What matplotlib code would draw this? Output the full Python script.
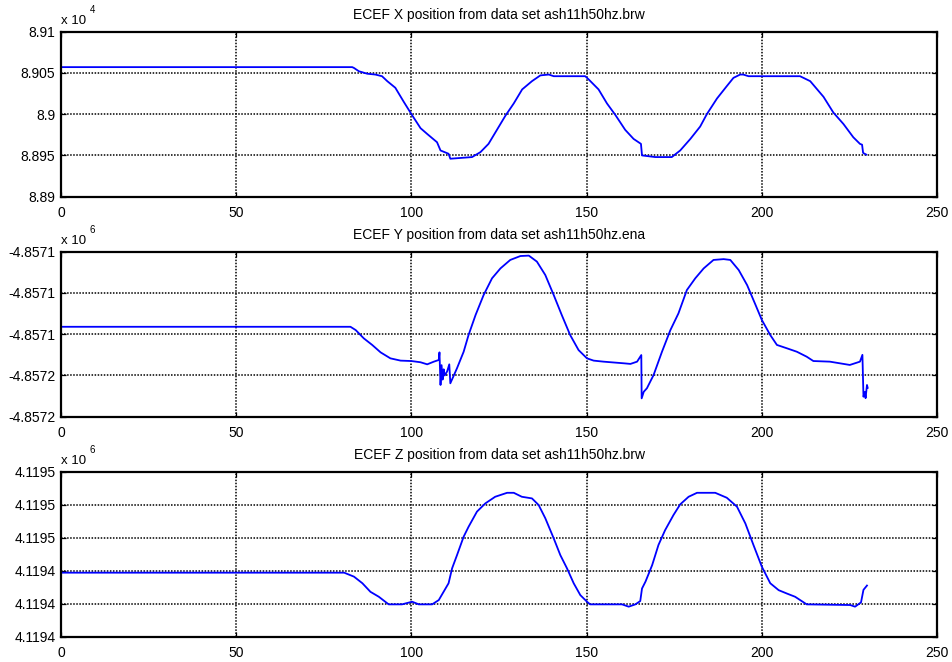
import matplotlib
matplotlib.use('Agg')
import matplotlib.pyplot as plt

plt.rcParams['font.family'] = ['Liberation Sans', 'DejaVu Sans']

# time axis (s) and ECEF positions (m)
t_x = [0, 83.1, 83.6, 85, 87.4, 89.7, 91.6, 93.1, 95.4, 97.8, 100, 102.6, 104.5,
       107.3, 108.3, 110.6, 111.1, 117.3, 119.7, 122, 124.4, 126.8, 129.2, 131.6,
       134.4, 136.8, 139.2, 140.6, 149.6, 150.6, 153.4, 155.8, 158.2, 161, 163.4,
       165.5, 165.8, 169.6, 174.3, 176.7, 179.6, 182.4, 184.3, 187.2, 190, 191.9,
       193.8, 194.7, 196.2, 210.9, 213.8, 217.6, 220.4, 223.3, 226.1, 228.0,
       228.6, 228.9, 229.8]
x_pos = [89057, 89057, 89056, 89052, 89049, 89048, 89046, 89040, 89032, 89015,
         89000, 88983, 88976, 88966, 88956, 88952, 88946, 88948, 88954, 88964,
         88981, 88998, 89013, 89030, 89040, 89047, 89048, 89046, 89046, 89042,
         89030, 89013, 88999, 88981, 88970, 88964, 88950, 88948, 88948, 88956,
         88970, 88985, 89000, 89019, 89034, 89044, 89048, 89048, 89046, 89046,
         89040, 89021, 89002, 88988, 88972, 88964, 88963, 88953, 88951]

t_y = [0, 82.6, 84.1, 86.4, 88.8, 91.2, 94.0, 96.9, 100, 102.6, 104.5, 106.4,
       107.8, 108.0, 108.3, 108.6, 108.9, 109.2, 109.5, 110.2, 110.8, 111.1, 113,
       114.9, 116.3, 118.3, 120.6, 123, 125.4, 128.2, 131.1, 133.5, 135.8, 138.2,
       140.6, 142.9, 145.3, 147.7, 150.1, 152, 154.8, 160.6, 162.5, 164.4, 165.6,
       165.7, 166.3, 167.2, 169.1, 171.5, 173.9, 176.2, 178.6, 181, 183.4, 186.2,
       189.1, 191, 193.4, 195.8, 198.2, 200.0, 202.4, 204.3, 207.1, 210, 212.8,
       214.7, 219.4, 225.1, 228, 228.7, 229.0, 229.4, 229.6, 230.0, 230.2]
y_pos = [-4857136.4, -4857136.4, -4857138.0, -4857142.0, -4857145.2, -4857148.8,
         -4857151.7, -4857152.8, -4857153.0, -4857153.6, -4857154.6, -4857153.3,
         -4857152.5, -4857148.8, -4857164.6, -4857155.0, -4857162.0, -4857157.0,
         -4857160.0, -4857158.0, -4857154.6, -4857163.8, -4857156.5, -4857148.5,
         -4857140.4, -4857130.7, -4857121.0, -4857112.9, -4857108.1, -4857104.0,
         -4857102.1, -4857101.9, -4857104.8, -4857111.3, -4857121.0, -4857130.7,
         -4857140.4, -4857147.7, -4857151.7, -4857152.8, -4857153.3, -4857154.1,
         -4857154.4, -4857153.3, -4857150.1, -4857171.1, -4857167.9, -4857166.2,
         -4857159.8, -4857148.5, -4857138.0, -4857129.9, -4857118.6, -4857112.9,
         -4857108.1, -4857104.0, -4857103.6, -4857104.0, -4857108.9, -4857116.2,
         -4857125.8, -4857133.1, -4857140.4, -4857145.2, -4857146.8, -4857148.5,
         -4857150.9, -4857153.0, -4857153.3, -4857154.9, -4857153.3, -4857150.0,
         -4857170.3, -4857168.0, -4857171.0, -4857164.6, -4857166.0]

t_z = [0, 80.8, 83.6, 86, 88.3, 90.7, 93.5, 97.3, 100.2, 102.1, 105.9, 107.8,
       110.6, 111.6, 113, 114.9, 116.3, 118.7, 121.1, 123.9, 127.3, 129.2, 131.5,
       134.4, 136.3, 138.2, 140.6, 142.5, 144.4, 146.3, 148.2, 150.1, 151, 160.1,
       162, 163.9, 165.3, 165.8, 166.8, 168.7, 170.5, 172.4, 174.8, 176.7, 179.1,
       181.5, 186.7, 190, 192.9, 195.3, 197.6, 200, 202.4, 204.8, 207.1, 209.5,
       212.8, 225.2, 226.6, 228.3, 229.0, 230.0]
z_pos = [4119439.4, 4119439.4, 4119438.2, 4119436.2, 4119433.6, 4119432.1,
         4119429.8, 4119429.8, 4119430.6, 4119429.8, 4119429.8, 4119431.1,
         4119436.2, 4119440.7, 4119444.7, 4119450.3, 4119453.3, 4119457.9,
         4119460.4, 4119462.4, 4119463.6, 4119463.6, 4119462.4, 4119461.9,
         4119459.9, 4119455.9, 4119449.8, 4119444.7, 4119440.7, 4119436.2,
         4119432.6, 4119430.6, 4119429.8, 4119429.8, 4119429.1, 4119429.8,
         4119430.8, 4119434.6, 4119436.7, 4119441.7, 4119447.8, 4119452.3,
         4119456.9, 4119460.1, 4119462.4, 4119463.6, 4119463.6, 4119462.1,
         4119459.4, 4119454.3, 4119447.8, 4119441.2, 4119436.2, 4119434.1,
         4119433.1, 4119432.1, 4119429.8, 4119429.6, 4119429.1, 4119430.4,
         4119434.2, 4119435.5]

x_ticks = [88900, 88950, 89000, 89050, 89100]
x_tick_labels = ['8.89', '8.895', '8.9', '8.905', '8.91']
y_ticks = [-4857180, -4857160, -4857140, -4857120, -4857100]
y_tick_labels = ['-4.8572', '-4.8572', '-4.8571', '-4.8571', '-4.8571']
z_ticks = [4119420, 4119430, 4119440, 4119450, 4119460, 4119470]
z_tick_labels = ['4.1194', '4.1194', '4.1194', '4.1195', '4.1195', '4.1195']
time_ticks = [0, 50, 100, 150, 200, 250]

panels = [
    ('ECEF X position from data set ash11h50hz.brw', t_x, x_pos, x_ticks, x_tick_labels, '4'),
    ('ECEF Y position from data set ash11h50hz.ena', t_y, y_pos, y_ticks, y_tick_labels, '6'),
    ('ECEF Z position from data set ash11h50hz.brw', t_z, z_pos, z_ticks, z_tick_labels, '6'),
]

fig = plt.figure(figsize=(9.52, 6.62), dpi=100)
bottoms = [0.7029, 0.3705, 0.0382]

for (title, t, pos, ticks, labels, exp), b in zip(panels, bottoms):
    ax = fig.add_axes([0.0641, b, 0.9202, 0.2493])
    ax.plot(t, pos, color='#0000ff', lw=1.3)
    ax.set_xlim(0, 250)
    ax.set_ylim(ticks[0], ticks[-1])
    ax.set_xticks(time_ticks)
    ax.set_yticks(ticks)
    ax.set_yticklabels(labels)
    ax.grid(True, color='black', linestyle=(0, (1, 1)), linewidth=1.1)
    ax.tick_params(direction='in', length=3.5, width=0.9, top=True, right=True,
                   labelsize=10, pad=4)
    ax.tick_params(axis='x', pad=7)
    for sp in ax.spines.values():
        sp.set_linewidth(1.6)
    ax.set_title(title, fontsize=10, pad=9)
    # MATLAB-style exponent label above the y axis
    ax.text(0.0, 1.048, 'x 10', transform=ax.transAxes, fontsize=9.5,
            ha='left', va='baseline')
    ax.text(0.033, 1.115, exp, transform=ax.transAxes, fontsize=7,
            ha='left', va='baseline')

fig.savefig('out.png', dpi=100)
